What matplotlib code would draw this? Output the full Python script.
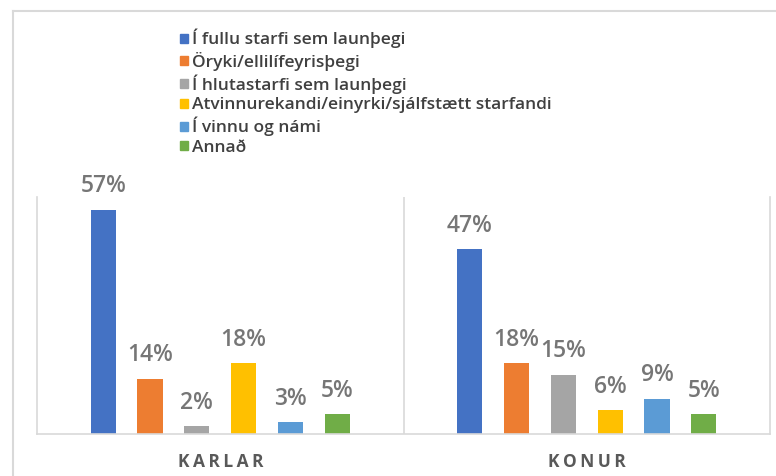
import numpy as np
import matplotlib.pyplot as plt
from matplotlib.lines import Line2D
from matplotlib.patches import Patch

groups = ['KARLAR', 'KONUR']
series = ['Í fullu starfi sem launþegi', 'Öryki/ellilífeyrisþegi', 'Í hlutastarfi sem launþegi',
          'Atvinnurekandi/einyrki/sjálfstætt starfandi', 'Í vinnu og námi', 'Annað']
karlar = [57, 14, 2, 18, 3, 5]
konur = [47, 18, 15, 6, 9, 5]
colors = ['#4472c4', '#ed7d31', '#a5a5a5', '#ffc000', '#5b9bd5', '#70ad47']

plt.rcParams['font.family'] = ['Open Sans', 'DejaVu Sans']

fig = plt.figure(figsize=(7.76, 4.76), dpi=100)
ax = fig.add_axes([37 / 776, 1 - 434 / 476, (770 - 37) / 776, (434 - 197) / 476])

values = np.array([karlar, konur])
x = np.arange(len(groups))
step = 0.1277
width = 0.0685
for i, name in enumerate(series):
    pos = x + (i - 2.5) * step
    bars = ax.bar(pos, values[:, i], width=width, color=colors[i], label=name)
    for b, v in zip(bars, values[:, i]):
        ax.annotate(f'{v}%', (b.get_x() + b.get_width() / 2, v), xytext=(0, 17),
                    textcoords='offset points', ha='center', va='center',
                    fontsize=16.5, color='#767676', fontweight='semibold')

ax.set_xlim(-0.5, 1.5)
ax.set_ylim(0, 60.3)
ax.set_yticks([])
ax.set_xticks([])
ax.spines['top'].set_visible(False)
for s in ['left', 'right', 'bottom']:
    ax.spines[s].set_color('#d9d9d9')
    ax.spines[s].set_linewidth(1.2)
ax.axvline(0.5, color='#d9d9d9', lw=1.2)

for xi, g in zip(x, groups):
    ax.text(xi, -0.12, '\u2009'.join(g), transform=ax.get_xaxis_transform(), ha='center', va='center',
            fontsize=12.5, fontweight='bold', color='#595959')

handles = [Patch(color=c) for c in colors]
leg = fig.legend(handles, series, loc='upper left', bbox_to_anchor=(180 / 776, 1 - 29 / 476),
                 frameon=False, handlelength=0.45, handleheight=0.45,
                 handletextpad=0.25, labelspacing=0.2, borderaxespad=0, borderpad=0,
                 prop={'size': 12.5, 'weight': 'semibold'})
for t in leg.get_texts():
    t.set_color('#404040')

# outer frame (left and top edges visible)
fig.add_artist(Line2D([13 / 776, 13 / 776], [0, 1 - 11 / 476], transform=fig.transFigure,
                      color='#d9d9d9', lw=1.5))
fig.add_artist(Line2D([13 / 776, 1], [1 - 11 / 476, 1 - 11 / 476], transform=fig.transFigure,
                      color='#d9d9d9', lw=1.5))

fig.savefig('out.png', dpi=100)
